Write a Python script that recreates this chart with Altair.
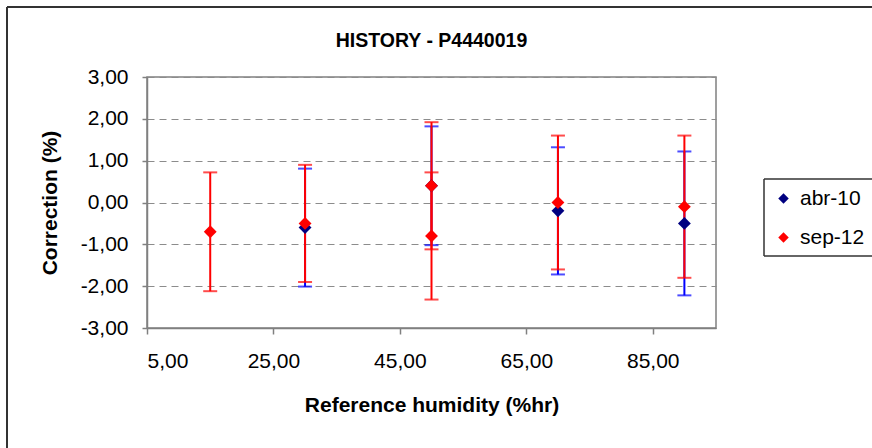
import altair as alt
import pandas as pd

# ---- data ----
series_names = ["abr-10", "sep-12"]
abr_x = [30, 50, 70, 90]
abr_y = [-0.6, 0.4, -0.2, -0.5]
abr_err = [1.41, 1.42, 1.52, 1.72]

sep_x = [15, 30, 50, 50, 70, 90]
sep_y = [-0.7, -0.5, 0.4, -0.8, 0.0, -0.1]
sep_err = [1.42, 1.40, 1.52, 1.52, 1.60, 1.70]

x_ticks = [5, 25, 45, 65, 85]
y_ticks = [-3, -2, -1, 0, 1, 2, 3]

W, H = 569, 251
FONT = "Liberation Sans"


def frame(xs, ys, es, name):
    return pd.DataFrame({
        "x": xs,
        "y": ys,
        "lo": [a - b for a, b in zip(ys, es)],
        "hi": [a + b for a, b in zip(ys, es)],
        "series": name,
    })


abr = frame(abr_x, abr_y, abr_err, series_names[0])
sep = frame(sep_x, sep_y, sep_err, series_names[1])
pts = pd.concat([abr, sep], ignore_index=True)

comma = "replace(format(abs(datum.value), '.2f'), '.', ',')"
ylab = "(datum.value < 0 ? '-' : '') + " + comma

xscale = alt.Scale(domain=[5, 95], nice=False, zero=False)
yscale = alt.Scale(domain=[-3, 3], nice=False, zero=False)

xaxis = alt.Axis(values=x_ticks, labelExpr=comma, grid=False, tickSize=6,
                 labelPadding=16, titlePadding=23, labelFontSize=21,
                 titleFontSize=21, titleFontWeight="bold")
yaxis = alt.Axis(values=y_ticks, labelExpr=ylab, grid=True, tickSize=5,
                 labelPadding=14, titlePadding=20, labelFontSize=21,
                 titleFontSize=21, titleFontWeight="bold",
                 gridDash=[7, 5], gridColor="#8c8c8c")

X = alt.X("x:Q", scale=xscale, axis=xaxis, title="Reference humidity (%hr)")


def Yf(field):
    return alt.Y(f"{field}:Q", scale=yscale, axis=yaxis, title="Correction (%)")


def errbars(df, color):
    rule = alt.Chart(df).mark_rule(color=color, strokeWidth=2).encode(
        x=X, y=Yf("lo"), y2="hi:Q")
    caps = alt.Chart(df).transform_fold(["lo", "hi"], as_=["k", "v"]).mark_tick(
        orient="horizontal", size=14, thickness=2, color=color).encode(
        x=X, y=Yf("v"))
    return rule + caps


one = pd.DataFrame({"a": [0]})


def hline(x0, x1, y, color, sw):
    return alt.Chart(one).mark_rule(color=color, strokeWidth=sw).encode(
        x=alt.value(x0), x2=alt.value(x1), y=alt.value(y))


def vline(x, y0, y1, color, sw):
    return alt.Chart(one).mark_rule(color=color, strokeWidth=sw).encode(
        x=alt.value(x), y=alt.value(y0), y2=alt.value(y1))


# outer chart frame (its right and bottom edges lie outside the picture)
frame_lines = (hline(7 - 147, W + 300, 7 - 77, "#333333", 2)
               + vline(7 - 147, 7 - 77, H + 300, "#333333", 2))
# legend frame (its right edge lies outside the picture)
legend_lines = (hline(764 - 147, W + 300, 179 - 77, "#333333", 1.5)
                + hline(764 - 147, W + 300, 256 - 77, "#333333", 1.5)
                + vline(764 - 147, 179 - 77, 256 - 77, "#333333", 1.5))

title = alt.Chart(pd.DataFrame({"t": ["HISTORY - P4440019"]})).mark_text(
    font=FONT, fontSize=19.5, fontWeight="bold", color="black",
    align="center", baseline="alphabetic").encode(
    text="t:N", x=alt.value(W / 2), y=alt.value(47 - 77))

points = alt.Chart(pts).mark_point(shape="diamond", filled=True, size=165,
                                   opacity=1).encode(
    x=X, y=Yf("y"),
    color=alt.Color("series:N",
                    scale=alt.Scale(domain=series_names, range=["#000080", "#FF0000"]),
                    legend=alt.Legend(title=None,
                                      orient="none", legendX=617,
                                      legendY=102,
                                      padding=9, symbolType="diamond",
                                      symbolSize=110, labelFontSize=21,
                                      labelOffset=6, rowPadding=17,
                                      labelFont=FONT)),
    order=alt.Order("series:N"))

chart = alt.layer(
    frame_lines, legend_lines, title,
    errbars(abr, "#0000FF"), errbars(sep, "#FF0000"),
    points,
).properties(
    width=W, height=H,
    autosize=alt.AutoSizeParams(type="none"),
    padding={"left": 147, "top": 77, "right": 872 - 147 - W, "bottom": 448 - 77 - H},
    background="white",
).configure_view(
    stroke="#808080", strokeWidth=1.5
).configure_axis(
    labelFont=FONT, titleFont=FONT, labelColor="black", titleColor="black",
    domainColor="#808080", tickColor="#808080", domainWidth=1.5, tickWidth=1.5,
)

chart.save("out.html", embed_options={"renderer": "svg", "actions": False})
